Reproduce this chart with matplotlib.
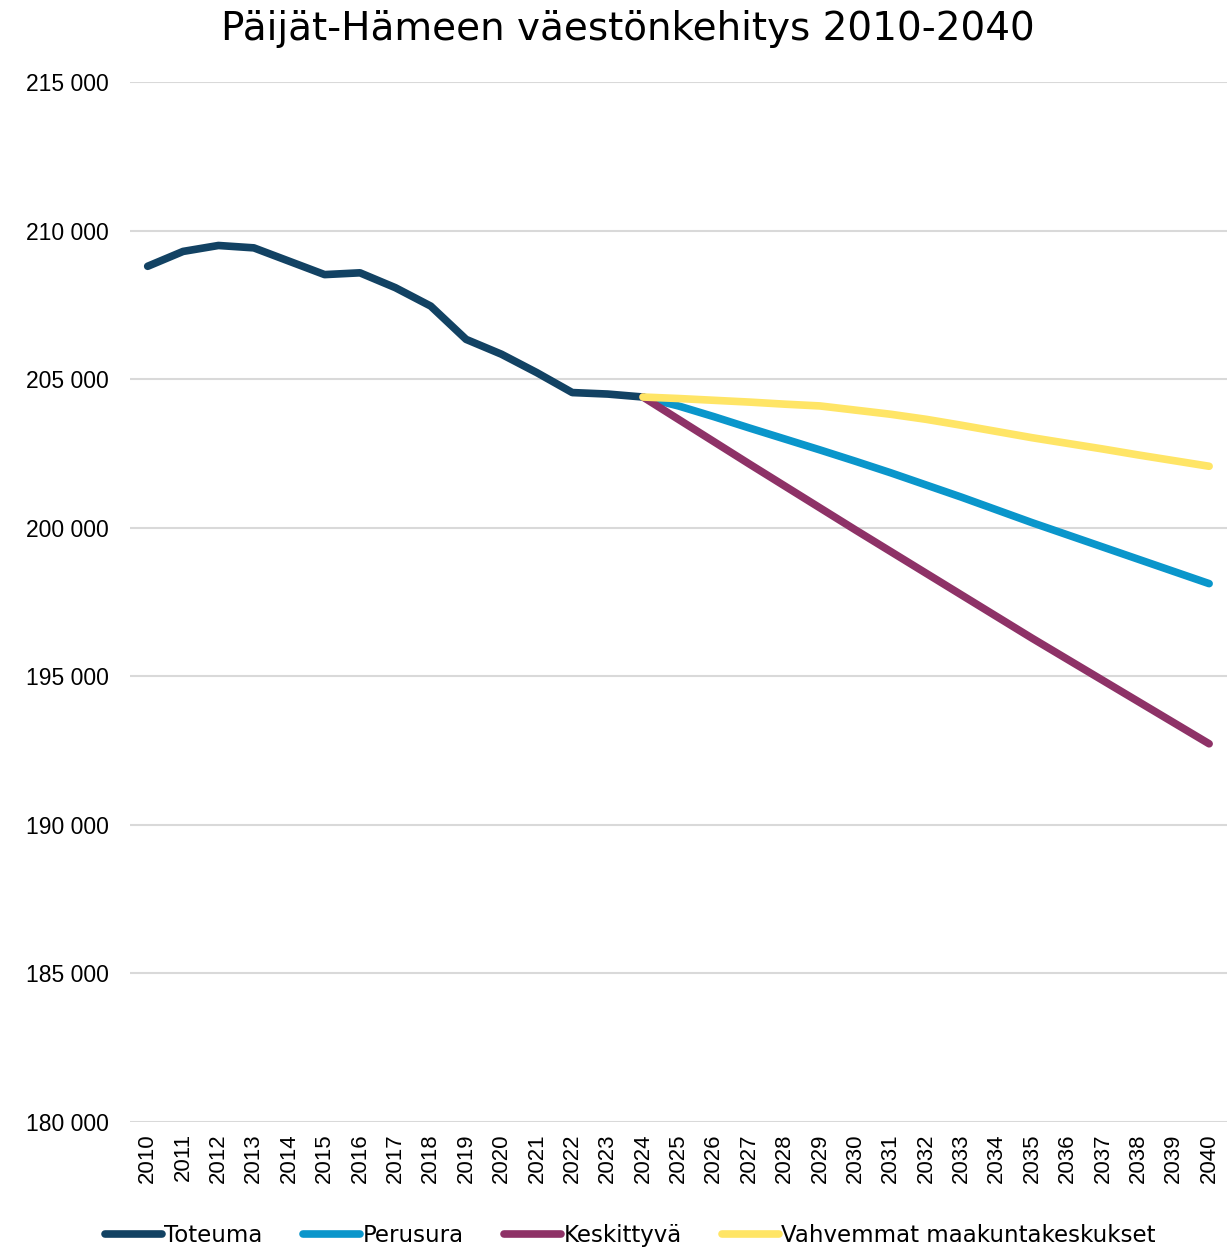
import matplotlib.pyplot as plt
import numpy as np

years = list(range(2010, 2041))

# Toteuma 2010-2024
toteuma = [208800, 209300, 209500, 209420, 208970, 208520, 208580, 208080,
           207460, 206340, 205840, 205220, 204550, 204500, 204400]

# scenarios 2024-2040
perusura = [204400, 204100, 203740, 203360, 202990, 202620, 202240, 201850,
            201440, 201030, 200600, 200170, 199760, 199350, 198940, 198530, 198120]
keskittyva = [204400, 203650, 202900, 202150, 201410, 200670, 199930, 199200,
              198470, 197740, 197010, 196280, 195570, 194860, 194150, 193440, 192730]
vahvemmat = [204400, 204350, 204290, 204230, 204160, 204100, 203960, 203820,
             203650, 203450, 203240, 203030, 202840, 202650, 202450, 202260, 202070]

plt.rcParams['font.family'] = ['Liberation Sans', 'DejaVu Sans']

fig = plt.figure(figsize=(12.31, 12.47), dpi=100)
ax = fig.add_axes([0.1056, 0.1002, 0.891, 0.834])

kw = dict(lw=5.5, solid_capstyle='round', solid_joinstyle='round')
ax.plot(years[:15], toteuma, color='#124263', label='Toteuma', **kw)
ax.plot(years[14:], perusura, color='#0A96CB', label='Perusura', **kw)
ax.plot(years[14:], keskittyva, color='#8E3267', label='Keskittyvä', **kw)
ax.plot(years[14:], vahvemmat, color='#FFE566', label='Vahvemmat maakuntakeskukset', **kw)

ax.set_xlim(2009.5, 2040.5)
ax.set_ylim(180000, 215000)
ax.set_yticks(np.arange(180000, 215001, 5000))
ax.set_yticklabels([f'{v // 1000} 000' for v in range(180000, 215001, 5000)])
ax.set_xticks(years)
ax.set_xticklabels([str(y) for y in years], rotation=90)
ax.tick_params(length=0, colors='black')
ax.tick_params(axis='y', pad=15, labelsize=16.5)
ax.tick_params(axis='x', pad=8, labelsize=16)
ax.grid(axis='y', color='#D9D9D9', lw=1.5)
ax.set_axisbelow(True)
for s in ax.spines.values():
    s.set_visible(False)

fig.text(0.51, 0.977, 'Päijät-Hämeen väestönkehitys 2010-2040', ha='center', va='center',
         fontsize=28, family='DejaVu Sans')

fig.legend(loc='center', bbox_to_anchor=(0.512, 0.0096), ncol=4, frameon=False,
           prop={'family': 'DejaVu Sans', 'size': 16.5},
           handlelength=2.5, handletextpad=0.1, columnspacing=1.75)

plt.savefig('out.png')
plt.close()
